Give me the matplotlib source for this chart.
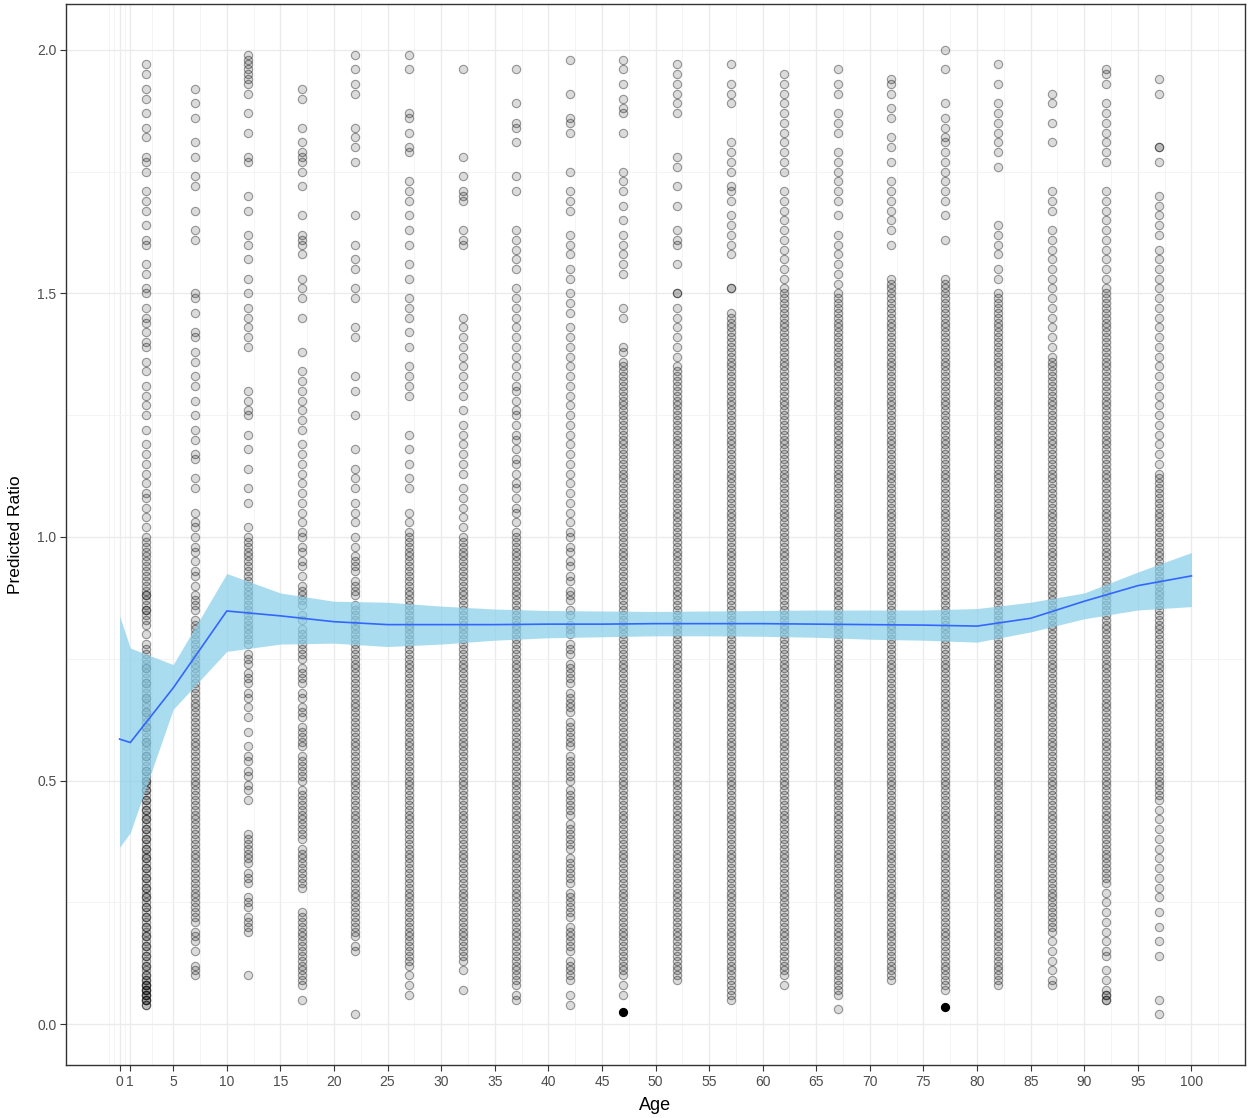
import numpy as np
import matplotlib
matplotlib.use('Agg')
import matplotlib.pyplot as plt

plt.rcParams['font.family'] = ['Liberation Sans', 'DejaVu Sans']

# x position of each column of points (age group)
ages = [2.5, 7, 12, 17, 22, 27, 32, 37, 42, 47, 52, 57, 62, 67, 72, 77, 82, 87, 92, 97]

# predicted ratio per age group, in hundredths
r02 = """197 195 192 190 187 184 182 178 177 175 171 169 167 164 161 160 156 154 151 150
147 145 144 142 140 139 136 134 131 129 127 125 122 119 117 115 113 111 109 108
106 104 102 100 99 98 97 96 95 94 93 92 91 90 89 88 88 87 86 85 85 84 83 82 80
78 77 76 75 74 73 73 72 71 70 70 69 68 67 67 66 65 64 64 63 62 61 61 60 59 58 58
57 56 55 55 54 53 52 52 51 50 50 49 48 48 47 46 46 45 44 44 43 42 42 41 40 40 39
38 38 37 36 36 35 34 34 33 32 32 31 30 30 29 28 28 27 26 26 25 24 24 23 22 22 21
20 20 19 18 18 17 16 16 15 14 14 13 12 12 11 10 10 9 9 8 8 8 7 7 7 6 6 6 5 5 5 4 4"""
r07 = """192 189 186 181 178 174 172 167 163 161 150 149 146 142 141 138 136 133 131 128
125 122 120 117 116 112 110 105 103 102 100 98 97 95 93 92 90 88 87 86 85 83 82
81 80 79 78 77 76 75 74 73 72 71 70 69 68 67 66 65 64 63 62 61 60 59 58 57 56 55
54 53 52 51 50 49 48 47 46 45 44 43 42 41 40 39 38 37 36 35 34 33 32 31 30 29 28
27 26 25 24 23 22 21 19 18 17 15 12 11 10"""
r12 = """199 198 197 196 195 194 193 191 187 183 178 177 170 167 162 160 157 153 150 147
145 143 141 139 130 128 126 125 121 118 114 110 107 102 100 99 98 97 96 95 94 93
92 91 90 89 88 87 86 85 84 83 82 81 80 79 78 76 75 74 72 71 70 68 67 65 63 60 57
55 54 52 51 49 48 46 39 38 37 36 35 34 33 31 30 29 26 25 24 22 21 20 19 10"""
r17 = """192 190 184 181 179 178 177 175 172 166 162 161 160 158 153 151 149 145 138 134
132 130 128 126 124 122 119 117 115 113 111 109 107 105 103 101 100 98 97 95 94
92 90 89 88 87 86 84 83 81 80 79 78 77 76 75 73 72 71 70 68 67 65 64 63 61 60 59
58 57 55 54 53 52 51 50 48 47 46 45 44 43 42 41 40 39 38 36 35 34 33 32 31 30 29
28 23 22 21 20 19 18 17 16 15 14 13 12 11 10 9 8 5"""
r22 = """199 196 193 191 184 182 180 177 166 160 157 155 151 149 143 141 133 130 125 118
114 112 110 107 105 103 100 98 96 95 94 93 91 90 89 88 86 85 84 83 82 81 80 79 78
77 76 75 74 73 72 71 70 69 68 67 66 65 64 63 62 61 60 59 58 57 56 55 54 53 52 51
50 49 48 47 46 45 44 43 42 41 40 39 38 37 36 35 34 33 32 31 30 29 28 27 26 25 24
23 22 21 20 19 18 16 15 2"""
r27 = """199 196 187 186 183 180 179 173 171 169 166 163 160 156 153 149 147 145 142 139
135 133 131 129 121 118 115 112 110 105 103 101 100 99 98 97 96 95 94 93 92 91
90 89 88 87 86 85 84 83 82 81 80 79 78 77 76 75 74 73 72 71 70 69 68 67 66 65 64
63 62 61 60 59 58 57 56 55 54 53 52 51 50 49 48 47 46 45 44 43 42 41 40 39 38 37
36 35 34 33 32 31 30 29 28 27 26 25 24 23 22 21 20 19 18 17 16 15 14 13 12 10 8 6"""
r32 = """196 178 174 171 170 169 163 161 160 145 143 141 139 137 135 133 131 129 126 123
121 119 117 115 113 110 108 106 104 102 100 99 98 97 96 95 94 93 92 91 90 89 88
87 86 85 84 83 82 81 80 79 78 77 76 75 74 73 72 71 70 69 68 67 66 65 64 63 62 61
60 59 58 57 56 55 54 53 52 51 50 49 48 47 46 45 44 43 42 41 40 39 38 37 36 35 34
33 32 31 30 29 28 27 26 25 24 23 22 21 20 19 18 17 16 15 14 13 11 7"""
r37 = """196 189 185 184 181 174 171 163 161 159 157 155 151 149 147 145 143 141 139 137
135 133 131 130 128 126 125 123 121 120 118 116 115 113 111 110 108 106 105 103
101 100 99 98 97 96 95 94 93 92 91 90 89 88 87 86 85 84 83 82 81 80 79 78 77 76
75 74 73 72 71 70 69 68 67 66 65 64 63 62 61 60 59 58 57 56 55 54 53 52 51 50 49
48 47 46 45 44 43 42 41 40 39 38 37 36 35 34 33 32 31 30 29 28 27 26 25 24 23 22
21 20 19 18 17 16 15 14 13 12 11 10 9 8 6 5"""
r42 = """198 191 186 185 183 175 171 169 167 162 160 158 155 153 150 148 146 143 141 139
137 135 133 131 129 127 125 123 121 119 117 115 113 111 109 107 105 103 101 100
98 97 95 94 92 91 89 88 87 85 84 82 81 80 78 77 76 74 73 72 71 70 68 67 66 65 64
62 61 60 59 58 57 55 54 53 52 51 50 48 47 46 45 44 43 41 40 39 38 37 36 34 33 32
31 30 29 27 26 25 24 23 22 20 19 18 17 16 15 13 12 11 10 9 6 4"""
r47 = """198 196 193 190 188 187 183 175 173 171 168 165 162 160 158 156 154 147 145 139
138 136 135 134 133 132 131 130 129 128 127 126 125 124 123 122 121 120 119 118
117 116 115 114 113 112 111 110 109 108 107 106 105 104 103 102 101 100 99 98 97
96 95 94 93 92 91 90 89 88 87 86 85 84 83 82 81 80 79 78 77 76 75 74 73 72 71 70
69 68 67 66 65 64 63 62 61 60 59 58 57 56 55 54 53 52 51 50 49 48 47 46 45 44 43
42 41 40 39 38 37 36 35 34 33 32 31 30 29 28 27 26 25 24 23 22 21 20 19 18 17 16
15 14 13 12 11 10 8 6"""
r52 = """197 195 193 191 189 187 178 176 172 168 163 161 160 156 150 150 147 145 143 141
139 137 135 134 133 132 131 130 129 128 127 126 125 124 123 122 121 120 119 118
117 116 115 114 113 112 111 110 109 108 107 106 105 104 103 102 101 100 99 98 97
96 95 94 93 92 91 90 89 88 87 86 85 84 83 82 81 80 79 78 77 76 75 74 73 72 71 70
69 68 67 66 65 64 63 62 61 60 59 58 57 56 55 54 53 52 51 50 49 48 47 46 45 44 43
42 41 40 39 38 37 36 35 34 33 32 31 30 29 28 27 26 25 24 23 22 21 20 19 18 17 16
15 14 13 12 11 10 9"""
r57 = """197 193 191 189 181 179 177 175 172 171 169 166 164 162 160 158 151 151 146 145
144 143 142 141 140 139 138 137 136 135 134 133 132 131 130 129 128 127 126 125
124 123 122 121 120 119 118 117 116 115 114 113 112 111 110 109 108 107 106 105
104 103 102 101 100 99 98 97 96 95 94 93 92 91 90 89 88 87 86 85 84 83 82 81 80
79 78 77 76 75 74 73 72 71 70 69 68 67 66 65 64 63 62 61 60 59 58 57 56 55 54 53
52 51 50 49 48 47 46 45 44 43 42 41 40 39 38 37 36 35 34 33 32 31 30 29 28 27 26
25 24 23 22 21 20 19 18 17 16 15 14 13 12 11 10 9 8 7 6 5"""
r62 = """195 193 191 189 187 185 183 181 179 177 175 171 169 167 165 163 161 159 157 155
153 151 150 149 148 147 146 145 144 143 142 141 140 139 138 137 136 135 134 133
132 131 130 129 128 127 126 125 124 123 122 121 120 119 118 117 116 115 114 113
112 111 110 109 108 107 106 105 104 103 102 101 100 99 98 97 96 95 94 93 92 91 90
89 88 87 86 85 84 83 82 81 80 79 78 77 76 75 74 73 72 71 70 69 68 67 66 65 64 63
62 61 60 59 58 57 56 55 54 53 52 51 50 49 48 47 46 45 44 43 42 41 40 39 38 37 36
35 34 33 32 31 30 29 28 27 26 25 24 23 22 21 20 19 18 17 16 15 14 13 12 11 10 8"""
r67 = """196 193 191 187 185 183 179 177 175 173 171 169 166 162 160 158 156 154 152 150
149 148 147 146 145 144 143 142 141 140 139 138 137 136 135 134 133 132 131 130
129 128 127 126 125 124 123 122 121 120 119 118 117 116 115 114 113 112 111 110
109 108 107 106 105 104 103 102 101 100 99 98 97 96 95 94 93 92 91 90 89 88 87 86
85 84 83 82 81 80 79 78 77 76 75 74 73 72 71 70 69 68 67 66 65 64 63 62 61 60 59
58 57 56 55 54 53 52 51 50 49 48 47 46 45 44 43 42 41 40 39 38 37 36 35 34 33 32
31 30 29 28 27 26 25 24 23 22 21 20 19 18 17 16 15 14 13 12 11 10 9 8 7 6 3"""
r72 = """194 193 191 188 186 182 180 177 173 171 169 167 165 163 160 153 152 151 150 149
148 147 146 145 144 143 142 141 140 139 138 137 136 135 134 133 132 131 130 129
128 127 126 125 124 123 122 121 120 119 118 117 116 115 114 113 112 111 110 109
108 107 106 105 104 103 102 101 100 99 98 97 96 95 94 93 92 91 90 89 88 87 86 85
84 83 82 81 80 79 78 77 76 75 74 73 72 71 70 69 68 67 66 65 64 63 62 61 60 59 58
57 56 55 54 53 52 51 50 49 48 47 46 45 44 43 42 41 40 39 38 37 36 35 34 33 32 31
30 29 28 27 26 25 24 23 22 21 20 19 18 17 16 15 14 13 12 11 10 9"""
r77 = """200 196 189 186 184 182 181 179 177 175 173 171 169 166 161 153 152 151 150 149
148 147 146 145 144 143 142 141 140 139 138 137 136 135 134 133 132 131 130 129
128 127 126 125 124 123 122 121 120 119 118 117 116 115 114 113 112 111 110 109
108 107 106 105 104 103 102 101 100 99 98 97 96 95 94 93 92 91 90 89 88 87 86 85
84 83 82 81 80 79 78 77 76 75 74 73 72 71 70 69 68 67 66 65 64 63 62 61 60 59 58
57 56 55 54 53 52 51 50 49 48 47 46 45 44 43 42 41 40 39 38 37 36 35 34 33 32 31
30 29 28 27 26 25 24 23 22 21 20 19 18 17 16 15 14 13 12 11 10 9 8 7"""
r82 = """197 193 189 187 185 183 181 179 176 164 162 160 158 155 153 150 149 148 147 146
145 144 143 142 141 140 139 138 137 136 135 134 133 132 131 130 129 128 127 126
125 124 123 122 121 120 119 118 117 116 115 114 113 112 111 110 109 108 107 106
105 104 103 102 101 100 99 98 97 96 95 94 93 92 91 90 89 88 87 86 85 84 83 82 81
80 79 78 77 76 75 74 73 72 71 70 69 68 67 66 65 64 63 62 61 60 59 58 57 56 55 54
53 52 51 50 49 48 47 46 45 44 43 42 41 40 39 38 37 36 35 34 33 32 31 30 29 28 27
26 25 24 23 22 21 20 19 18 17 16 15 14 13 12 11 10 9 8"""
r87 = """191 189 185 181 171 169 167 163 161 159 157 155 153 151 149 147 145 143 141 139
137 136 135 134 133 132 131 130 129 128 127 126 125 124 123 122 121 120 119 118
117 116 115 114 113 112 111 110 109 108 107 106 105 104 103 102 101 100 99 98 97
96 95 94 93 92 91 90 89 88 87 86 85 84 83 82 81 80 79 78 77 76 75 74 73 72 71 70
69 68 67 66 65 64 63 62 61 60 59 58 57 56 55 54 53 52 51 50 49 48 47 46 45 44 43
42 41 40 39 38 37 36 35 34 33 32 31 30 29 28 27 26 25 24 23 22 21 20 19 17 15 13
11 9 8"""
r92 = """196 195 193 189 187 185 183 181 179 177 171 169 167 165 163 161 159 157 155 153
151 150 149 148 147 146 145 144 143 142 141 140 139 138 137 136 135 134 133 132
131 130 129 128 127 126 125 124 123 122 121 120 119 118 117 116 115 114 113 112
111 110 109 108 107 106 105 104 103 102 101 100 99 98 97 96 95 94 93 92 91 90 89
88 87 86 85 84 83 82 81 80 79 78 77 76 75 74 73 72 71 70 69 68 67 66 65 64 63 62
61 60 59 58 57 56 55 54 53 52 51 50 49 48 47 46 45 44 43 42 41 40 39 38 37 36 35
34 33 32 31 30 29 27 25 23 21 19 17 15 14 11 9 7 6 6 5 5"""
r97 = """194 191 180 180 177 170 168 166 164 162 159 157 155 153 151 149 147 145 143 141
139 137 135 133 131 129 127 125 123 121 119 117 115 113 112 111 110 109 108 107
106 105 104 103 102 101 100 99 98 97 96 95 94 93 92 91 90 89 88 87 86 85 84 83 82
81 80 79 78 77 76 75 74 73 72 71 70 69 68 67 66 65 64 63 62 61 60 59 58 57 56 55
54 53 52 51 50 49 48 47 46 44 42 40 38 36 34 32 30 28 26 23 20 17 14 5 2"""
ratio_cols = [r02, r07, r12, r17, r22, r27, r32, r37, r42, r47,
              r52, r57, r62, r67, r72, r77, r82, r87, r92, r97]

# heavily overplotted spots that print solid black
solid_age = [47, 77]
solid_ratio = [0.025, 0.035]

# smoothed fit and its confidence band
fit_age = [0, 1, 5, 10, 15, 20, 25, 30, 35, 40, 45, 50, 55, 60, 65, 70, 75, 80, 85, 90, 95, 100]
fit_mid = [0.585, 0.578, 0.690, 0.848, 0.838, 0.826, 0.820, 0.820, 0.820, 0.821, 0.821,
           0.822, 0.822, 0.822, 0.821, 0.820, 0.819, 0.817, 0.833, 0.868, 0.900, 0.920]
fit_hi = [0.838, 0.772, 0.738, 0.925, 0.885, 0.868, 0.866, 0.858, 0.852, 0.849, 0.848,
          0.847, 0.848, 0.849, 0.850, 0.850, 0.850, 0.853, 0.866, 0.885, 0.928, 0.968]
fit_lo = [0.363, 0.393, 0.646, 0.765, 0.780, 0.782, 0.775, 0.780, 0.788, 0.793, 0.795,
          0.797, 0.797, 0.796, 0.794, 0.790, 0.788, 0.784, 0.805, 0.832, 0.850, 0.857]

x_ticks = [0, 1, 5, 10, 15, 20, 25, 30, 35, 40, 45, 50, 55, 60, 65, 70, 75, 80, 85, 90, 95, 100]
y_ticks = [0.0, 0.5, 1.0, 1.5, 2.0]

fig = plt.figure(figsize=(12.49, 11.18), dpi=100)
ax = fig.add_axes([66/1249, 53/1118, 1179/1249, 1061/1118])

for age, col in zip(ages, ratio_cols):
    vals = np.array(col.split(), dtype=float) / 100
    ax.scatter(np.full(len(vals), age), vals, s=36, marker='o',
               facecolors=(0, 0, 0, 0.14), edgecolors=(0, 0, 0, 0.38),
               linewidths=0.8, zorder=2)
ax.scatter(solid_age, solid_ratio, s=32, color='black', zorder=2)

ax.fill_between(fit_age, fit_lo, fit_hi, color='#87ceeb', alpha=0.7, lw=0, zorder=3)
ax.plot(fit_age, fit_mid, color='#3366ff', lw=1.2, zorder=4)

# ggplot style grid: minor lines halfway between majors, one step beyond each end
xb = [-1] + x_ticks + [105]
x_minor = [(a + b) / 2 for a, b in zip(xb[:-1], xb[1:])] + [-1]
y_minor = [0.25, 0.75, 1.25, 1.75]
ax.set_xticks(x_ticks)
ax.set_xticklabels([str(t) for t in x_ticks])
ax.set_xticks(x_minor, minor=True)
ax.set_yticks(y_ticks)
ax.set_yticklabels([f'{t:.1f}' for t in y_ticks])
ax.set_yticks(y_minor, minor=True)
ax.grid(which='major', color='#ebebeb', lw=1.0)
ax.grid(which='minor', color='#f2f2f2', lw=0.6)
ax.set_axisbelow(True)

ax.set_xlim(-5, 105)
ax.set_ylim(-0.084, 2.094)

for sp in ax.spines.values():
    sp.set_color('#333333')
    sp.set_linewidth(1.0)
ax.tick_params(which='major', length=4, width=0.8, color='#333333',
               labelcolor='#4d4d4d', labelsize=10, pad=3)
ax.tick_params(which='minor', length=0)

ax.set_xlabel('Age', fontsize=13, color='black', labelpad=6)
ax.set_ylabel('Predicted Ratio', fontsize=12.5, color='black', labelpad=10)

fig.savefig('out.png', dpi=100, facecolor='white')
